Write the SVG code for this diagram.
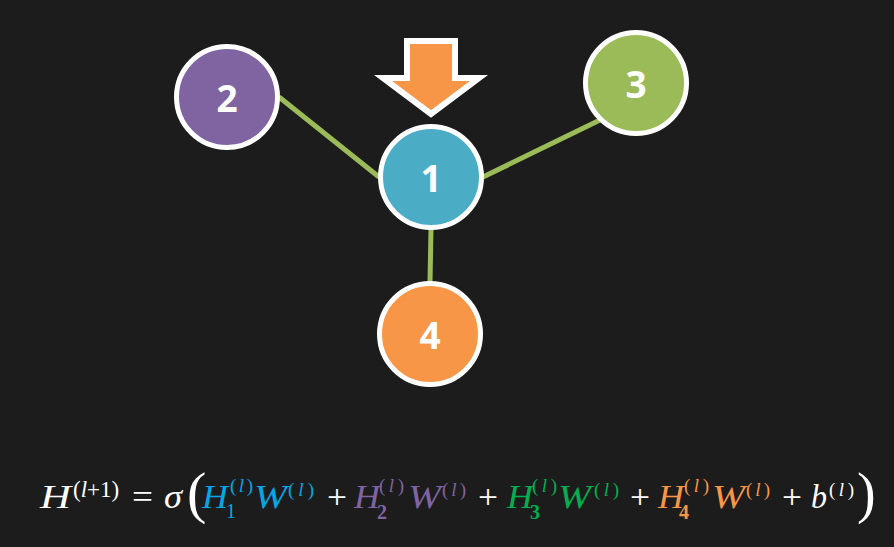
<svg xmlns="http://www.w3.org/2000/svg" width="894" height="547" viewBox="0 0 894 547">
<defs>
<style>
.node circle{stroke:#ffffff;stroke-width:5}
.node text{font-family:"Open Sans","DejaVu Sans",sans-serif;font-weight:bold;font-size:37px;fill:#ffffff;text-anchor:middle}
.edge{stroke:#9bbb59;stroke-width:5;stroke-linecap:butt}
.m{font-family:"Liberation Serif","DejaVu Serif",serif;font-size:33px;font-style:italic}
.u{font-style:normal}
.sup{font-family:"Liberation Serif","DejaVu Serif",serif;font-size:19px}
.sup1{font-family:"Liberation Serif","DejaVu Serif",serif;font-size:23px}
.sub{font-family:"Liberation Serif","DejaVu Serif",serif;font-size:20px}
.b{font-weight:bold}
.w{fill:#ffffff}.c1{fill:#00a8e8}.c2{fill:#8064a2}.c3{fill:#00b050}.c4{fill:#f79646}
</style>
</defs>
<rect width="894" height="547" fill="#1c1c1c"/>
<g id="connectors">
<line class="edge" x1="279" y1="97" x2="379" y2="177"/>
<line class="edge" x1="483" y1="177" x2="600" y2="120"/>
<line class="edge" x1="431" y1="229" x2="430" y2="282"/>
</g>
<g id="arrow">
<path d="M407,41 H455 V78 H479 L431,114 L383,78 H407 Z" fill="#f79646" stroke="#ffffff" stroke-width="6" stroke-linejoin="miter"/>
</g>
<g id="node1" class="node"><circle cx="431" cy="177" r="50.5" fill="#4bacc6"/><text x="431" y="192">1</text></g>
<g id="node2" class="node"><circle cx="227" cy="97" r="50.5" fill="#8064a2"/><text x="227" y="112">2</text></g>
<g id="node3" class="node"><circle cx="636" cy="83" r="50.5" fill="#9bbb59"/><text x="636" y="98">3</text></g>
<g id="node4" class="node"><circle cx="430" cy="334" r="50.5" fill="#f79646"/><text x="430" y="349">4</text></g>
<g id="formula">
<text class="m w" x="40" y="508" textLength="31" lengthAdjust="spacingAndGlyphs">H</text>
<text class="sup1 w" x="73" y="497">(<tspan font-style="italic">l</tspan>+1)</text>
<text class="m u w" x="132" y="508" textLength="21" lengthAdjust="spacingAndGlyphs">=</text>
<text class="m w" x="164" y="508" textLength="18" lengthAdjust="spacingAndGlyphs">σ</text>
<text class="w" x="187" y="512" font-family="Liberation Serif, serif" font-size="58">(</text>

<text class="m c1" x="202" y="508" textLength="26" lengthAdjust="spacingAndGlyphs">H</text>
<text class="sub c1" x="226" y="518">1</text>
<text class="sup c1" x="230" y="492" textLength="23">(<tspan font-style="italic">l</tspan>)</text>
<text class="m c1" x="254" y="508" textLength="33" lengthAdjust="spacingAndGlyphs">W</text>
<text class="sup c1" x="288" y="496" textLength="26">(<tspan font-style="italic">l</tspan>)</text>
<text class="m u w" x="327" y="508" textLength="20" lengthAdjust="spacingAndGlyphs">+</text>

<text class="m c2" x="354" y="508" textLength="26" lengthAdjust="spacingAndGlyphs">H</text>
<text class="sub b c2" x="377" y="519">2</text>
<text class="sup c2" x="379" y="492" textLength="25">(<tspan font-style="italic">l</tspan>)</text>
<text class="m c2" x="408" y="508" textLength="33" lengthAdjust="spacingAndGlyphs">W</text>
<text class="sup c2" x="442" y="496" textLength="24">(<tspan font-style="italic">l</tspan>)</text>
<text class="m u w" x="478" y="508" textLength="20" lengthAdjust="spacingAndGlyphs">+</text>

<text class="m c3" x="507" y="508" textLength="26" lengthAdjust="spacingAndGlyphs">H</text>
<text class="sub b c3" x="530" y="519">3</text>
<text class="sup c3" x="532" y="492" textLength="25">(<tspan font-style="italic">l</tspan>)</text>
<text class="m c3" x="558" y="508" textLength="33" lengthAdjust="spacingAndGlyphs">W</text>
<text class="sup c3" x="594" y="496" textLength="25">(<tspan font-style="italic">l</tspan>)</text>
<text class="m u w" x="630" y="508" textLength="20" lengthAdjust="spacingAndGlyphs">+</text>

<text class="m c4" x="658" y="508" textLength="26" lengthAdjust="spacingAndGlyphs">H</text>
<text class="sub b c4" x="679" y="519">4</text>
<text class="sup c4" x="684" y="492" textLength="25">(<tspan font-style="italic">l</tspan>)</text>
<text class="m c4" x="712" y="508" textLength="33" lengthAdjust="spacingAndGlyphs">W</text>
<text class="sup c4" x="746" y="496" textLength="24">(<tspan font-style="italic">l</tspan>)</text>
<text class="m u w" x="782" y="508" textLength="20" lengthAdjust="spacingAndGlyphs">+</text>

<text class="m w" x="811" y="508" textLength="16" lengthAdjust="spacingAndGlyphs">b</text>
<text class="sup w" x="829" y="496" textLength="25">(<tspan font-style="italic">l</tspan>)</text>
<text class="w" x="857" y="512" font-family="Liberation Serif, serif" font-size="56">)</text>
</g>
</svg>
